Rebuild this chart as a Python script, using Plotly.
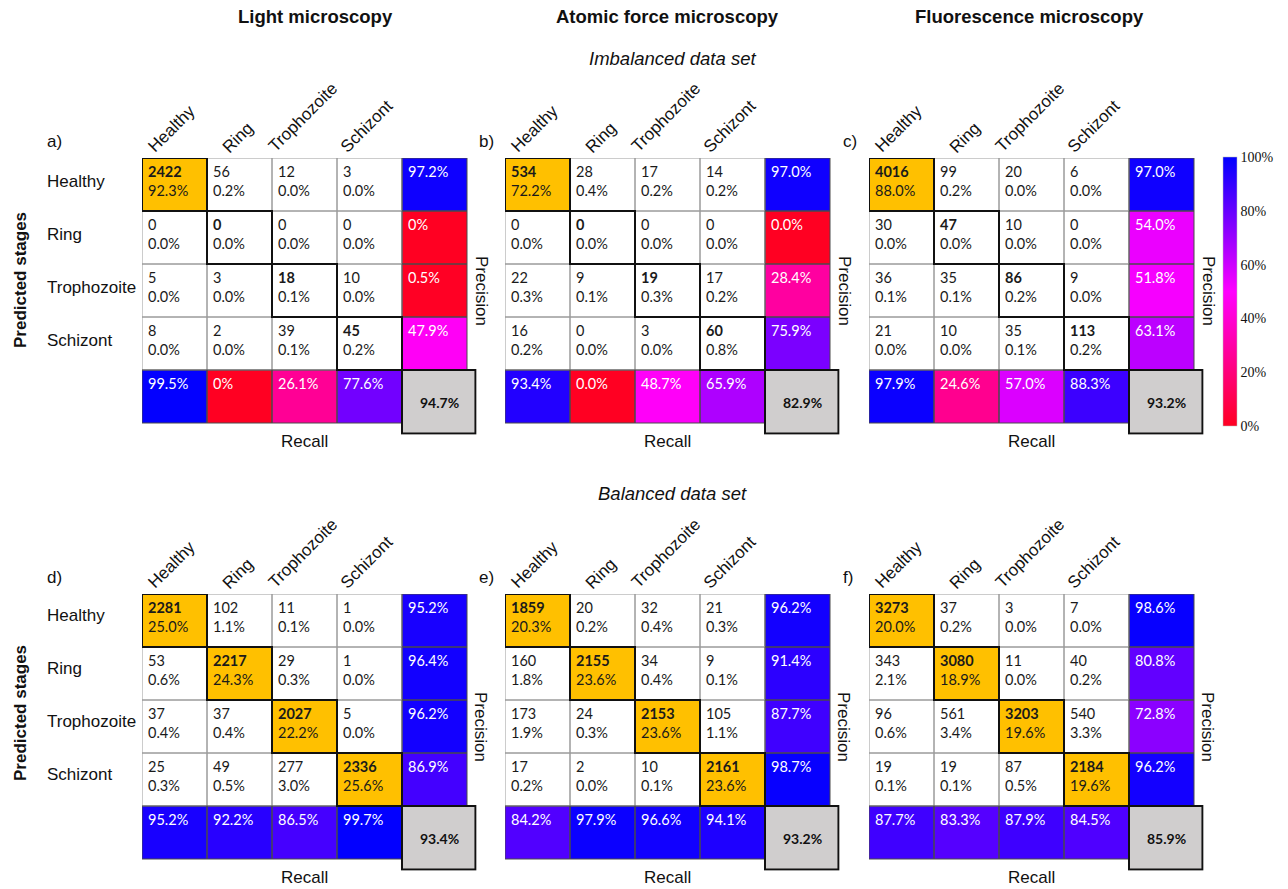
import plotly.graph_objects as go

W, H = 1288, 889

stages = ["Healthy", "Ring", "Trophozoite", "Schizont"]
methods = ["Light microscopy", "Atomic force microscopy", "Fluorescence microscopy"]
datasets = ["Imbalanced data set", "Balanced data set"]
panel_tags = ["a)", "b)", "c)", "d)", "e)", "f)"]

# Confusion matrices: rows = predicted stage, columns = true stage.
# counts_* are image counts, share_* the percentage of all images.
counts_a = [[2422, 56, 12, 3], [0, 0, 0, 0], [5, 3, 18, 10], [8, 2, 39, 45]]
share_a = [[92.3, 0.2, 0.0, 0.0], [0.0, 0.0, 0.0, 0.0], [0.0, 0.0, 0.1, 0.0], [0.0, 0.0, 0.1, 0.2]]
precision_a = [97.2, 0.0, 0.5, 47.9]
recall_a = [99.5, 0.0, 26.1, 77.6]
accuracy_a = 94.7

counts_b = [[534, 28, 17, 14], [0, 0, 0, 0], [22, 9, 19, 17], [16, 0, 3, 60]]
share_b = [[72.2, 0.4, 0.2, 0.2], [0.0, 0.0, 0.0, 0.0], [0.3, 0.1, 0.3, 0.2], [0.2, 0.0, 0.0, 0.8]]
precision_b = [97.0, 0.0, 28.4, 75.9]
recall_b = [93.4, 0.0, 48.7, 65.9]
accuracy_b = 82.9

counts_c = [[4016, 99, 20, 6], [30, 47, 10, 0], [36, 35, 86, 9], [21, 10, 35, 113]]
share_c = [[88.0, 0.2, 0.0, 0.0], [0.0, 0.0, 0.0, 0.0], [0.1, 0.1, 0.2, 0.0], [0.0, 0.0, 0.1, 0.2]]
precision_c = [97.0, 54.0, 51.8, 63.1]
recall_c = [97.9, 24.6, 57.0, 88.3]
accuracy_c = 93.2

counts_d = [[2281, 102, 11, 1], [53, 2217, 29, 1], [37, 37, 2027, 5], [25, 49, 277, 2336]]
share_d = [[25.0, 1.1, 0.1, 0.0], [0.6, 24.3, 0.3, 0.0], [0.4, 0.4, 22.2, 0.0], [0.3, 0.5, 3.0, 25.6]]
precision_d = [95.2, 96.4, 96.2, 86.9]
recall_d = [95.2, 92.2, 86.5, 99.7]
accuracy_d = 93.4

counts_e = [[1859, 20, 32, 21], [160, 2155, 34, 9], [173, 24, 2153, 105], [17, 2, 10, 2161]]
share_e = [[20.3, 0.2, 0.4, 0.3], [1.8, 23.6, 0.4, 0.1], [1.9, 0.3, 23.6, 1.1], [0.2, 0.0, 0.1, 23.6]]
precision_e = [96.2, 91.4, 87.7, 98.7]
recall_e = [84.2, 97.9, 96.6, 94.1]
accuracy_e = 93.2

counts_f = [[3273, 37, 3, 7], [343, 3080, 11, 40], [96, 561, 3203, 540], [19, 19, 87, 2184]]
share_f = [[20.0, 0.2, 0.0, 0.0], [2.1, 18.9, 0.0, 0.2], [0.6, 3.4, 19.6, 3.3], [0.1, 0.1, 0.5, 19.6]]
precision_f = [98.6, 80.8, 72.8, 96.2]
recall_f = [87.7, 83.3, 87.9, 84.5]
accuracy_f = 85.9

colorbar_ticks = [0, 20, 40, 60, 80, 100]
colorbar_labels = ["0%", "20%", "40%", "60%", "80%", "100%"]

panels = [
    (counts_a, share_a, precision_a, recall_a, accuracy_a, "{:g}%"),
    (counts_b, share_b, precision_b, recall_b, accuracy_b, "{:.1f}%"),
    (counts_c, share_c, precision_c, recall_c, accuracy_c, "{:.1f}%"),
    (counts_d, share_d, precision_d, recall_d, accuracy_d, "{:.1f}%"),
    (counts_e, share_e, precision_e, recall_e, accuracy_e, "{:.1f}%"),
    (counts_f, share_f, precision_f, recall_f, accuracy_f, "{:.1f}%"),
]

# ---- styling / geometry -------------------------------------------------
CELL_W, CELL_H = 65, 53
X_MAX, Y_MAX = 4.65, 4.72            # axis extent leaves room for the accuracy box
PANEL_LEFT = [142, 505, 869]
PANEL_TOP = [158, 594]
HEADER_SHIFT = [11, 20, 1, 8]
ORANGE = "#FFC000"
GREY_BOX = "#D0CECE"
CELL_FONT = "Lato"
SANS = "Liberation Sans, Arial, sans-serif"
INK = "#111111"
HIGHLIGHT_MIN = 10.0                 # diagonal share above which the cell is filled

metric_scale = [[0.0, "#ff0022"], [0.5, "#ff00ff"], [1.0, "#0000ff"]]


def px(x):
    return x / W


def py(y):
    return 1 - y / H


def label(x, y, text, size=17, xanchor="center", yanchor="middle", **kw):
    """Free text placed in page pixels."""
    return dict(xref="paper", yref="paper", x=px(x), y=py(y), text=text,
                xanchor=xanchor, yanchor=yanchor, showarrow=False,
                font=dict(family=SANS, size=size, color=INK), **kw)


fig = go.Figure()
shapes = []
annotations = []

for k, (counts, share, prec, rec, acc, fmt) in enumerate(panels, start=1):
    row, col = divmod(k - 1, 3)
    L, T = PANEL_LEFT[col], PANEL_TOP[row]
    xa, ya = f"x{k}" if k > 1 else "x", f"y{k}" if k > 1 else "y"
    xname = "xaxis" + (str(k) if k > 1 else "")
    yname = "yaxis" + (str(k) if k > 1 else "")
    span_x = (X_MAX + 0.5) * CELL_W
    span_y = (Y_MAX + 0.5) * CELL_H
    fig.update_layout({
        xname: dict(domain=[px(L), px(L + span_x)], range=[-0.5, X_MAX], visible=False,
                    fixedrange=True, anchor=ya),
        yname: dict(domain=[py(T + span_y), py(T)], range=[Y_MAX, -0.5], visible=False,
                    fixedrange=True, anchor=xa),
    })

    n = len(stages)
    # confusion cells: white, diagonal highlighted in orange when it holds a large share
    zc = [[None] * (n + 1) for _ in range(n + 1)]
    for i in range(n):
        for j in range(n):
            zc[i][j] = 1 if (i == j and share[i][j] >= HIGHLIGHT_MIN) else 0
    fig.add_trace(go.Heatmap(
        z=zc, x=list(range(n + 1)), y=list(range(n + 1)), xaxis=xa, yaxis=ya,
        colorscale=[[0, "#ffffff"], [1, ORANGE]], zmin=0, zmax=1, showscale=False,
        hoverinfo="skip"))

    # precision column and recall row on the shared colour axis
    zm = [[None] * (n + 1) for _ in range(n + 1)]
    for i in range(n):
        zm[i][n] = prec[i]
        zm[n][i] = rec[i]
    fig.add_trace(go.Heatmap(
        z=zm, x=list(range(n + 1)), y=list(range(n + 1)), xaxis=xa, yaxis=ya,
        coloraxis="coloraxis", hoverinfo="skip"))

    # cell borders
    for i in range(n + 1):
        for j in range(n + 1):
            if i == n and j == n:
                continue
            metric = (i == n or j == n)
            shapes.append(dict(type="rect", xref=xa, yref=ya, x0=j - 0.5, x1=j + 0.5,
                               y0=i - 0.5, y1=i + 0.5,
                               line=dict(color="#4a4a4a" if metric else "#9a9a9a", width=1)))
    for i in range(n):
        shapes.append(dict(type="rect", xref=xa, yref=ya, x0=i - 0.5, x1=i + 0.5,
                           y0=i - 0.5, y1=i + 0.5, line=dict(color=INK, width=2)))
    # overall accuracy box
    shapes.append(dict(type="rect", xref=xa, yref=ya, x0=n - 0.5, x1=X_MAX - 0.02,
                       y0=n - 0.5, y1=Y_MAX - 0.02, fillcolor=GREY_BOX,
                       line=dict(color=INK, width=2)))
    annotations.append(dict(xref=xa, yref=ya, x=(n - 0.5 + X_MAX) / 2, y=(n - 0.5 + Y_MAX) / 2,
                            xanchor="center", yanchor="middle",
                            text=f"<b>{acc:.1f}%</b>", showarrow=False,
                            font=dict(family=CELL_FONT, size=14, color=INK)))

    # cell texts
    for i in range(n):
        for j in range(n):
            c = f"<b>{counts[i][j]}</b>" if i == j else f"{counts[i][j]}"
            annotations.append(dict(xref=xa, yref=ya, x=j - 0.5, y=i - 0.5,
                                    xanchor="left", yanchor="top", align="left",
                                    xshift=4, yshift=-3, showarrow=False,
                                    text=f"{c}<br>{share[i][j]:.1f}%",
                                    font=dict(family=CELL_FONT, size=14.5, color="#1a1a1a")))
        annotations.append(dict(xref=xa, yref=ya, x=n - 0.5, y=i - 0.5,
                                xanchor="left", yanchor="top", xshift=4, yshift=-3,
                                showarrow=False, text=fmt.format(prec[i]),
                                font=dict(family=CELL_FONT, size=14.5, color="#ffffff")))
        annotations.append(dict(xref=xa, yref=ya, x=i - 0.5, y=n - 0.5,
                                xanchor="left", yanchor="top", xshift=4, yshift=-3,
                                showarrow=False, text=fmt.format(rec[i]),
                                font=dict(family=CELL_FONT, size=14.5, color="#ffffff")))

    # column headers (true stages), rotated
    for j, s in enumerate(stages):
        annotations.append(label(L + j * CELL_W + HEADER_SHIFT[j] - 11, T + 1, s,
                                 xanchor="left", yanchor="bottom", textangle=-45))

    # axis captions
    annotations.append(label(L + 162, T + 283, "Recall"))
    annotations.append(label(L + 339, T + 133, "Precision", textangle=90))
    tag_x = 45 if col == 0 else L - 28
    annotations.append(label(tag_x, T - 17, panel_tags[k - 1], xanchor="left"))

    if col == 0:
        for i, s in enumerate(stages):
            annotations.append(label(45, T + 23 + i * CELL_H - 2 * row, s, xanchor="left"))
        annotations.append(label(20, T + 122 - 3 * row, "<b>Predicted stages</b>",
                                 textangle=-90))

# method titles and data-set captions
title_x = [315, 667, 1029]
for m, xm in zip(methods, title_x):
    annotations.append(label(xm, 17, f"<b>{m}</b>", size=18.5))
for d, yd in zip(datasets, [58, 493]):
    annotations.append(label(672, yd, f"<i>{d}</i>", size=18.5))

fig.update_layout(
    width=W, height=H, margin=dict(l=0, r=0, t=0, b=0),
    paper_bgcolor="white", plot_bgcolor="rgba(0,0,0,0)",
    shapes=shapes, annotations=annotations, showlegend=False,
    coloraxis=dict(
        colorscale=metric_scale, cmin=0, cmax=100,
        colorbar=dict(
            x=px(1223), xanchor="left", y=py(291.5), yanchor="middle",
            lenmode="pixels", len=269, thickness=14, xpad=0, ypad=0,
            outlinewidth=0.5, outlinecolor="#bbbbbb",
            tickvals=colorbar_ticks, ticktext=colorbar_labels, ticks="",
            tickfont=dict(family="Liberation Serif", size=14, color=INK),
        ),
    ),
)

fig.write_html("out.html")
